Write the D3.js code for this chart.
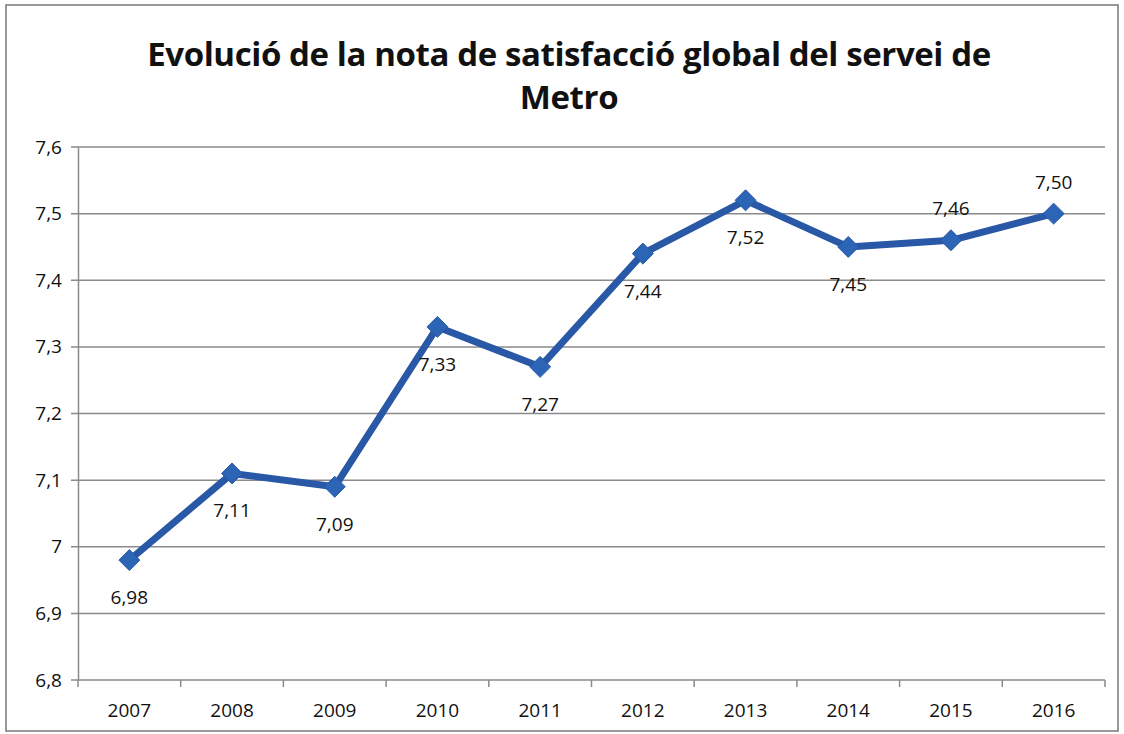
<!DOCTYPE html>
<html>
<head>
<meta charset="utf-8">
<script src="https://cdnjs.cloudflare.com/ajax/libs/d3/7.8.5/d3.min.js"></script>
<style>
  body { margin: 0; background: #fff; }
  text { font-family: "Open Sans", "DejaVu Sans", sans-serif; fill: #111; }
</style>
</head>
<body>
<div id="chart"></div>
<script>
// Data
var years = ["2007", "2008", "2009", "2010", "2011", "2012", "2013", "2014", "2015", "2016"];
var scores = [6.98, 7.11, 7.09, 7.33, 7.27, 7.44, 7.52, 7.45, 7.46, 7.50];
var labels = ["6,98", "7,11", "7,09", "7,33", "7,27", "7,44", "7,52", "7,45", "7,46", "7,50"];
var labelAbove = [false, false, false, false, false, false, false, false, true, true];
var yTicks = [6.8, 6.9, 7, 7.1, 7.2, 7.3, 7.4, 7.5, 7.6];
var titleLines = ["Evolució de la nota de satisfacció global del servei de", "Metro"];

var W = 1124, H = 734;
var margin = { top: 147, right: 19, bottom: 54, left: 78 },
    width = W - margin.left - margin.right,
    height = H - margin.top - margin.bottom;

var svg = d3.select('#chart').append('svg')
    .attr('width', W)
    .attr('height', H);

// scanned frame
svg.append("rect")
    .attr("x", 6).attr("y", 5)
    .attr("width", W - 12).attr("height", H - 8)
    .attr("fill", "none")
    .attr("stroke", "#777")
    .attr("stroke-width", 1.5);

// title
svg.selectAll(".title")
    .data(titleLines)
    .enter().append("text")
    .attr("class", "title")
    .attr("x", 569)
    .attr("y", function (d, i) { return 66 + i * 43; })
    .attr("text-anchor", "middle")
    .style("font-size", "33px")
    .style("font-weight", "bold")
    .style("letter-spacing", "-0.4px")
    .text(function (d) { return d; });

var g = svg.append('g')
    .attr('transform', 'translate(' + margin.left + ',' + margin.top + ')');

var x = d3.scaleBand().domain(years).range([0, width]);
var y = d3.scaleLinear().domain([6.8, 7.6]).range([height, 0]);

// gridlines
g.selectAll(".grid")
    .data(yTicks)
    .enter().append("line")
    .attr("x1", -7).attr("x2", width)
    .attr("y1", function (d) { return y(d); })
    .attr("y2", function (d) { return y(d); })
    .attr("stroke", "#8a8a8a")
    .attr("stroke-width", 1.5);

// y axis
var yAxis = g.append("g")
    .call(d3.axisLeft(y).tickValues(yTicks).tickSize(0).tickPadding(16)
        .tickFormat(function (d) { return d3.format(".1f")(d).replace(".", ",").replace(",0", ""); }));
yAxis.select(".domain").attr("stroke", "#8a8a8a").attr("stroke-width", 1.5);
yAxis.selectAll("text").style("font-size", "19px").attr("fill", "#111");

// x axis
var xAxis = g.append("g")
    .attr("transform", "translate(0," + height + ")")
    .call(d3.axisBottom(x).tickSize(0).tickPadding(24));
xAxis.select(".domain").remove();
xAxis.selectAll("text").style("font-size", "19px").attr("fill", "#111");
g.selectAll(".xtick")
    .data(years.concat(["end"]))
    .enter().append("line")
    .attr("x1", function (d, i) { return i * x.step(); })
    .attr("x2", function (d, i) { return i * x.step(); })
    .attr("y1", height).attr("y2", height + 7)
    .attr("stroke", "#8a8a8a")
    .attr("stroke-width", 1.5);

// series line
var pts = years.map(function (d, i) { return { year: d, v: scores[i], label: labels[i], above: labelAbove[i] }; });
var line = d3.line()
    .x(function (d) { return x(d.year) + x.bandwidth() / 2; })
    .y(function (d) { return y(d.v); });

g.append("path")
    .datum(pts)
    .attr("d", line)
    .attr("fill", "none")
    .attr("stroke", "#2858a6")
    .attr("stroke-width", 7)
    .attr("stroke-linejoin", "round");

g.selectAll(".marker")
    .data(pts)
    .enter().append("path")
    .attr("d", d3.symbol().type(d3.symbolDiamond2).size(280))
    .attr("transform", function (d) { return "translate(" + (x(d.year) + x.bandwidth() / 2) + "," + y(d.v) + ")"; })
    .attr("fill", "#2c64b6")
    .attr("stroke", "#2858a6")
    .attr("stroke-width", 1);

g.selectAll(".dlabel")
    .data(pts)
    .enter().append("text")
    .attr("x", function (d) { return x(d.year) + x.bandwidth() / 2; })
    .attr("y", function (d) { return y(d.v) + (d.above ? -25 : 44); })
    .attr("text-anchor", "middle")
    .style("font-size", "19px")
    .text(function (d) { return d.label; });
</script>
</body>
</html>
